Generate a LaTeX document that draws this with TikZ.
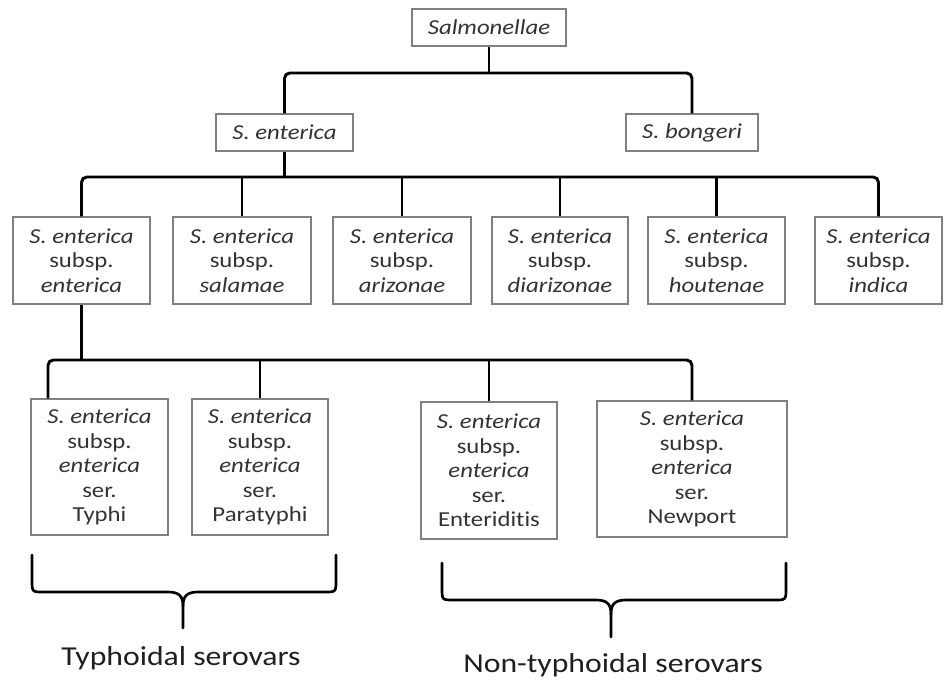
\documentclass[tikz,border=0pt]{standalone}
\usepackage{fontspec}
\setmainfont[FakeStretch=1.16,Ligatures=NoCommon]{Carlito}
\definecolor{boxgray}{HTML}{808080}
\definecolor{txtgray}{HTML}{333333}
\begin{document}
\begin{tikzpicture}[x=0.75pt,y=-0.75pt,
  box/.style={draw=boxgray, line width=1.1pt, fill=white, text=txtgray, align=center, inner sep=0pt,
    font=\fontsize{16}{18.4}\selectfont},
  sz/.style 2 args={minimum width=#1*0.75pt, minimum height=#2*0.75pt},
  conn/.style={line width=2.2pt, black, rounded corners=4pt},
  brace/.style={line width=2pt, black, line cap=round, line join=round},
  lbl/.style={font=\fontsize{20.5}{24}\selectfont, text=black!88, inner sep=0pt, anchor=base}]
\fill[white] (0,0) rectangle (945,679);
\useasboundingbox (0,0) rectangle (945,679);

% level 0/1
\node[box,sz={154}{37}] (salm) at (489,27.5) {\itshape Salmonellae};
\node[box,sz={137}{37}] (sent) at (284.5,132.5) {\itshape S. enterica};
\node[box,sz={132}{37}] (sbon) at (692,132.5) {\itshape S. bongeri};

% level 2
\node[box,sz={137}{87}] (b1) at (81.5,260.5) {\textit{S. enterica}\\subsp.\\\textit{enterica}};
\node[box,sz={138}{87}] (b2) at (242,260.5) {\textit{S. enterica}\\subsp.\\\textit{salamae}};
\node[box,sz={138}{87}] (b3) at (402,260.5) {\textit{S. enterica}\\subsp.\\\textit{arizonae}};
\node[box,sz={136}{87}] (b4) at (560,260.5) {\textit{S. enterica}\\subsp.\\\textit{diarizonae}};
\node[box,sz={137}{87}] (b5) at (716.5,260.5) {\textit{S. enterica}\\subsp.\\\textit{houtenae}};
\node[box,sz={127}{87}] (b6) at (878.5,260.5) {\textit{S. enterica}\\subsp.\\\textit{indica}};

% level 3
\node[box,sz={137}{136}] (typhi) at (99.5,467) {\textit{S. enterica}\\subsp.\\\textit{enterica}\\ser.\\Typhi};
\node[box,sz={136}{136}] (para) at (260,467) {\textit{S. enterica}\\subsp.\\\textit{enterica}\\ser.\\Paratyphi};
\node[box,sz={136}{137}] (ente) at (489,470.5) {\textit{S. enterica}\\subsp.\\\textit{enterica}\\ser.\\Enteriditis};
\node[box,sz={190}{136}] (newp) at (692,469) {\textit{S. enterica}\\subsp.\\\textit{enterica}\\ser.\\Newport};

% connectors
\coordinate (j1) at (489,73);
\draw[conn] (sent.north) |- (j1) -| (sbon.north);
\draw[conn] (salm.south) -- (salm.south |- j1);

\coordinate (j2) at (284.5,177);
\draw[conn] (b1.north) |- (j2) -| (b6.north);
\draw[conn] (sent.south) -- (j2);
\foreach \b in {b2,b3,b4,b5} \draw[conn] (\b.north) -- (\b.north |- j2);

\coordinate (j3) at (81.5,360);
\coordinate (tx) at (48,0);
\draw[conn] (typhi.north -| tx) |- (j3) -| (newp.north);
\draw[conn] (b1.south) -- (j3);
\draw[conn] (para.north) -- (para.north |- j3);
\draw[conn] (ente.north) -- (ente.north |- j3);

% braces
\draw[brace] (32,555) -- (32,580) .. controls (32,592) .. (44,592) -- (168,592)
  .. controls (179,592) and (183,596) .. (183,606) -- (183,628);
\draw[brace] (183,606) .. controls (183,596) and (187,592) .. (198,592) -- (324,592)
  .. controls (336,592) .. (336,580) -- (336,555);
\draw[brace] (442,563) -- (442,588) .. controls (442,600) .. (454,600) -- (596,600)
  .. controls (607,600) and (611,604) .. (611,614) -- (611,637);
\draw[brace] (611,614) .. controls (611,604) and (615,600) .. (626,600) -- (774,600)
  .. controls (786,600) .. (786,588) -- (786,563);

% labels
\node[lbl] (typh) at (181,665) {Typhoidal serovars};
\node[lbl] (nontyph) at (613,672) {Non-typhoidal serovars};
\end{tikzpicture}
\end{document}
